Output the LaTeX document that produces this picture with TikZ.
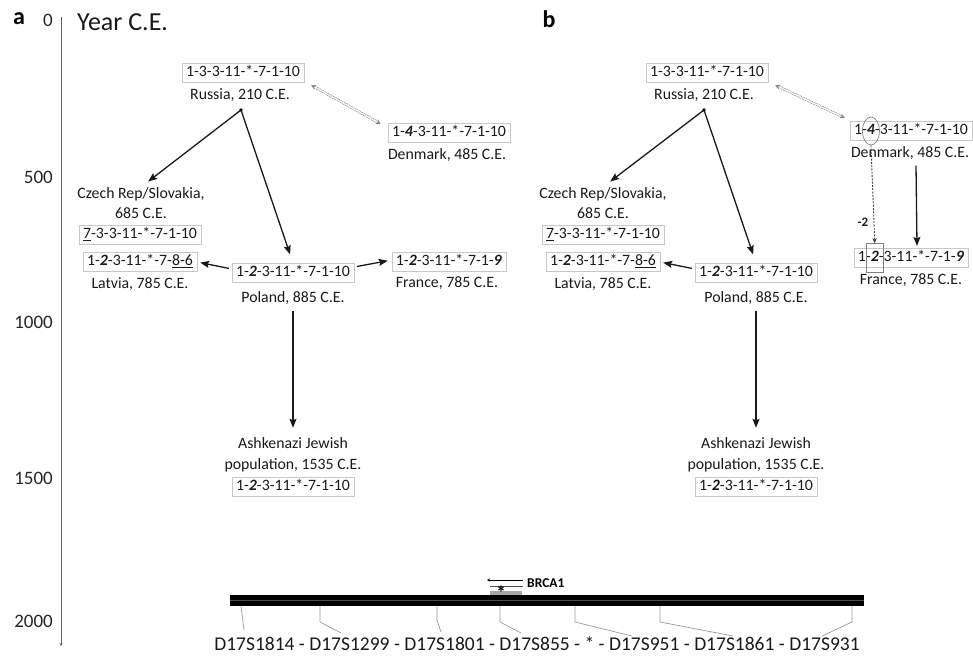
\documentclass[tikz,border=0pt]{standalone}
\usepackage{fontspec}
\setmainfont{Carlito}
\usetikzlibrary{arrows.meta,shapes.geometric,calc}
\newlength\wa
\newlength\wb
\newlength\wofs
\newcommand\seqfont{\fontsize{15.8}{20}\selectfont}
\newcommand\labfont{\fontsize{15.8}{20.5}\selectfont}
\newcommand\tickfont{\fontsize{19}{20}\selectfont}
\newcommand\botfont{\fontsize{19.5}{20}\selectfont}
\newcommand\bi[1]{\textbf{\textit{#1}}}
\begin{document}
\settowidth{\wa}{\seqfont 1-}%
\settowidth{\wb}{\seqfont\bi{4}}%
\setlength{\wofs}{\dimexpr\wa+\wb/2+4.3pt\relax}%
\begin{tikzpicture}[x=1pt,y=-1pt,
  seq/.style={draw=black!22, line width=0.6pt, inner xsep=4pt, inner ysep=2.5pt, text height=11pt, text depth=3.5pt, font=\seqfont, text=black!90},
  lab/.style={inner sep=0pt, align=center, font=\labfont, text=black!90},
  arr/.style={-{Stealth[length=9pt,width=7pt,inset=1.5pt]}, line width=1.3pt, draw=black!90},
  dbl/.style={{Stealth[length=5pt,width=5pt]}-{Stealth[length=5pt,width=5pt]}, draw=black!50, double=white, double distance=1.5pt, line width=0.55pt, dash pattern=on 2pt off 1pt},
  mk/.style={draw=black!40, line width=0.7pt},
  tick/.style={anchor=east, inner sep=0pt, font=\tickfont, text=black!85},
  mark2/.style={draw=black!50, line width=0.7pt, inner sep=0pt}]
\useasboundingbox (0,0) rectangle (973,661);

% ---------- axis ----------
\node[inner sep=0pt, font=\bfseries\fontsize{24}{24}\selectfont] (la) at (19,19) {a};
\node[inner sep=0pt, font=\bfseries\fontsize{24}{24}\selectfont] (lb) at (549,19) {b};
\node[anchor=west, inner sep=0pt, font=\fontsize{26}{26}\selectfont, text=black!90] (yr) at (77,22) {Year C.E.};
\coordinate (axtop) at (61,17);
\coordinate (axbot) at (61,646);
\draw[black!60, line width=0.8pt, -{Stealth[length=3pt,width=3pt]}] (axtop) -- (axbot);
\node[tick] (t0) at (53,20) {0};
\node[tick] (t500) at (53,177) {500};
\node[tick] (t1000) at (53,322) {1000};
\node[tick] (t1500) at (53,478) {1500};
\node[tick] (t2000) at (53,621) {2000};

% ---------- panel a ----------
\node[seq] (ruA) at (243,73) {1-3-3-11-*-7-1-10};
\node[lab] (ruAl) at (240,95) {Russia, 210 C.E.};
\coordinate (ruAd) at (241,110);
\fill[black] (ruAd) circle (1.8);
\node[seq] (deA) at (449,133) {1-\bi{4}-3-11-*-7-1-10};
\node[lab] (deAl) at (447,155) {Denmark, 485 C.E.};
\node[lab] (czAl) at (141,203) {Czech Rep/Slovakia,\\685 C.E.};
\node[seq] (czA) at (140,235) {\underline{7}-3-3-11-*-7-1-10};
\node[seq] (lvA) at (140,262) {1-\bi{2}-3-11-*-7-\underline{8-6}};
\node[lab] (lvAl) at (140,284) {Latvia, 785 C.E.};
\node[seq] (poA) at (293,273) {1-\bi{2}-3-11-*-7-1-10};
\node[lab] (poAl) at (293,298) {Poland, 885 C.E.};
\node[seq] (frA) at (449,262) {1-\bi{2}-3-11-*-7-1-\bi{9}};
\node[lab] (frAl) at (447,283) {France, 785 C.E.};
\node[lab] (akAl) at (293,455) {Ashkenazi Jewish\\population, 1535 C.E.};
\node[seq] (akA) at (293,487) {1-\bi{2}-3-11-*-7-1-10};

\draw[arr, shorten >=9pt] (ruAd) -- (czAl.north);
\draw[arr, shorten >=9pt] (ruAd) -- (poA.north);
\draw[arr, shorten <=3pt, shorten >=3pt] ($(poA.west)+(0,-4)$) -- (lvA.east);
\draw[arr, shorten <=3pt, shorten >=4pt] ($(poA.east)+(0,-6)$) -- ($(frA.west)+(0,-2)$);
\draw[arr] ([yshift=-6pt]poAl.south) -- ([yshift=10pt]akAl.north);
\draw[dbl] ($(ruA.south east)+(7,2)$) -- ($(deA.north west)+(-7,1)$);

% ---------- panel b ----------
\node[seq] (ruB) at (707,73) {1-3-3-11-*-7-1-10};
\node[lab] (ruBl) at (704,95) {Russia, 210 C.E.};
\coordinate (ruBd) at (704,110);
\fill[black] (ruBd) circle (1.8);
\node[seq] (deB) at (911,131) {1-\bi{4}-3-11-*-7-1-10};
\node[lab] (deBl) at (910,153) {Denmark, 485 C.E.};
\node[lab] (czBl) at (603,203) {Czech Rep/Slovakia,\\685 C.E.};
\node[seq] (czB) at (603,235) {\underline{7}-3-3-11-*-7-1-10};
\node[seq] (lvB) at (603,262) {1-\bi{2}-3-11-*-7-\underline{8-6}};
\node[lab] (lvBl) at (603,284) {Latvia, 785 C.E.};
\node[seq] (poB) at (756,273) {1-\bi{2}-3-11-*-7-1-10};
\node[lab] (poBl) at (756,298) {Poland, 885 C.E.};
\node[seq] (frB) at (911,258) {1-\bi{2}-3-11-*-7-1-\bi{9}};
\node[lab] (frBl) at (911,280) {France, 785 C.E.};
\node[lab] (akBl) at (756,455) {Ashkenazi Jewish\\population, 1535 C.E.};
\node[seq] (akB) at (756,487) {1-\bi{2}-3-11-*-7-1-10};

\node[mark2, ellipse, minimum width=17pt, minimum height=28pt] (e4) at ([xshift=\wofs]deB.west) {};
\node[mark2, rectangle, minimum width=17pt, minimum height=29pt] (r2) at ([xshift=\wofs]frB.west) {};

\draw[arr, shorten >=9pt] (ruBd) -- (czBl.north);
\draw[arr, shorten >=9pt] (ruBd) -- (poB.north);
\draw[arr, shorten <=3pt, shorten >=3pt] ($(poB.west)+(0,-4)$) -- (lvB.east);
\draw[arr] ([yshift=-6pt]poBl.south) -- ([yshift=10pt]akBl.north);
\draw[dbl] ($(ruB.south east)+(7,2)$) -- ($(deB.north west)+(-5,-3)$);
\draw[black!75, line width=0.9pt, dash pattern=on 2pt off 1.3pt, -{Stealth[length=5pt,width=4.5pt]}] (e4.south) -- (r2.north);
\node[inner sep=0pt, font=\bfseries\fontsize{13}{13}\selectfont, text=black!90] (m2) at ([xshift=-8pt]e4.south |- 0,222) {-2};
\draw[arr] ($(deBl.south)+(6,6)$) -- ($(frB.north)+(6,-2)$);

% ---------- chromosome ----------
\node[fill=black, inner sep=0pt, minimum width=634pt, minimum height=11pt] (bar) at (547,600.5) {};
\draw[black!70, line width=0.7pt] (bar.west) -- (bar.east);
\coordinate (br1) at (523,580);
\coordinate (br2) at (487,580);
\draw[black, line width=0.7pt, -{Stealth[length=3pt,width=3pt]}] (br1) -- (br2);
\draw[black!70, line width=0.7pt] (490,586) -- (523,586);
\fill[black!35] (490,591) rectangle (522,595);
\node[inner sep=0pt, font=\bfseries\fontsize{19}{19}\selectfont] (ast) at (501,593) {*};
\node[anchor=west, inner sep=0pt, font=\bfseries\fontsize{13.5}{14}\selectfont] (brca) at (527,583) {BRCA1};

\node[inner sep=0pt, font=\botfont, text=black!90] (mkl) at (537,644) {D17S1814 - D17S1299 - D17S1801 - D17S855 - * - D17S951 - D17S1861 - D17S931};
\draw[mk] (241,606) -- (244,630);
\draw[mk] (320,606) -- (320,622) -- (341,633);
\draw[mk] (437,606) -- (437,620) -- (441,632);
\draw[mk] (500,606) -- (500,622) -- (521,633);
\draw[mk] (575,606) -- (575,622) -- (632,636);
\draw[mk] (660,606) -- (660,622) -- (733,636);
\draw[mk] (852,606) -- (852,622) -- (822,636);
\end{tikzpicture}
\end{document}
